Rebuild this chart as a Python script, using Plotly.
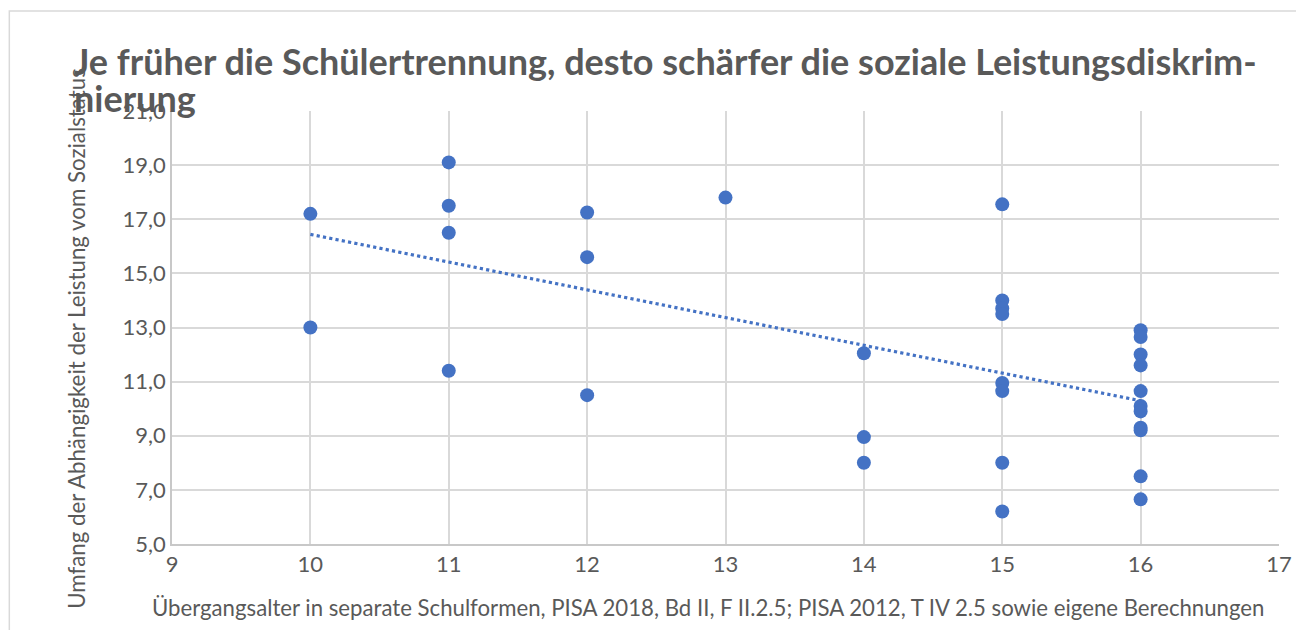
import numpy as np
import plotly.graph_objects as go

# Data
age_10 = [17.2, 13.0]
age_11 = [19.1, 17.5, 16.5, 11.4]
age_12 = [17.25, 15.6, 10.5]
age_13 = [17.8]
age_14 = [12.05, 8.95, 8.0]
age_15 = [17.55, 14.0, 13.7, 13.5, 10.95, 10.65, 8.0, 6.2]
age_16 = [12.9, 12.65, 12.0, 11.6, 10.65, 10.1, 9.9, 9.3, 9.2, 7.5, 6.65]

groups = {10: age_10, 11: age_11, 12: age_12, 13: age_13, 14: age_14, 15: age_15, 16: age_16}
xs = []
ys = []
for k, vals in groups.items():
    xs += [k] * len(vals)
    ys += vals
xs = np.array(xs, dtype=float)
ys = np.array(ys, dtype=float)

slope, intercept = np.polyfit(xs, ys, 1)
tx = np.array([xs.min(), xs.max()])
ty = slope * tx + intercept

title_line1 = "Je früher die Schülertrennung, desto schärfer die soziale Leistungsdiskrim-"
title_line2 = "nierung"
x_title = "Übergangsalter in separate Schulformen, PISA 2018, Bd II, F II.2.5; PISA 2012, T IV 2.5 sowie eigene Berechnungen"
y_title = "Umfang der Abhängigkeit der Leistung vom Sozialstatus"

blue = "#4472C4"
gray = "#595959"

fig = go.Figure()
fig.add_trace(go.Scatter(x=tx, y=ty, mode="lines",
                         line=dict(color=blue, width=3.2, dash="dot"),
                         showlegend=False, hoverinfo="skip"))
fig.add_trace(go.Scatter(x=xs, y=ys, mode="markers",
                         marker=dict(color=blue, size=14),
                         showlegend=False))

OFF = 8  # page body margin
W, H = 1304 - OFF, 630 - OFF
L, T = 172 - OFF, 111 - OFF
R = W - (1288 - OFF)
B = H - (544 - OFF)
pw = W - L - R
ph = H - T - B

def px2x(p):
    return (p - OFF - L) / pw

def py2y(p):
    return (H - B - (p - OFF)) / ph

fig.update_layout(
    width=W, height=H,
    margin=dict(l=L, r=R, t=T, b=B),
    paper_bgcolor="white", plot_bgcolor="white",
    separators=", ",
    font=dict(family="Lato, Carlito, sans-serif", color=gray, size=22),
    xaxis=dict(range=[9, 17], dtick=1, tick0=9, showgrid=True, gridcolor="#d9d9d9", gridwidth=1.5,
               showline=True, linecolor="#c8c8c8", linewidth=1.5, zeroline=False,
               ticks="", tickfont=dict(size=22, color=gray)),
    yaxis=dict(range=[5, 21], dtick=2, tick0=5, tickformat=".1f", showgrid=True, gridcolor="#d9d9d9",
               gridwidth=1.5, showline=True, linecolor="#c8c8c8", linewidth=1.5, zeroline=False,
               ticks="", tickfont=dict(size=22, color=gray)),
    shapes=[dict(type="rect", xref="paper", yref="paper",
                 x0=px2x(8), x1=px2x(1320), y0=py2y(660), y1=py2y(11),
                 line=dict(color="#d9d9d9", width=1.5), fillcolor="rgba(0,0,0,0)", layer="below")],
    annotations=[
        dict(text=title_line1, xref="paper", yref="paper", x=px2x(71), y=py2y(61),
             xanchor="left", yanchor="middle", align="left", showarrow=False,
             font=dict(size=36, color=gray, family="Lato, sans-serif", weight="bold")),
        dict(text=title_line2, xref="paper", yref="paper", x=px2x(71), y=py2y(98),
             xanchor="left", yanchor="middle", align="left", showarrow=False,
             font=dict(size=36, color=gray, family="Lato, sans-serif", weight="bold")),
        dict(text=x_title, xref="paper", yref="paper", x=px2x(712), y=py2y(607),
             xanchor="center", yanchor="middle", showarrow=False,
             font=dict(size=22.2, color=gray)),
        dict(text=y_title, xref="paper", yref="paper", x=px2x(75), y=py2y(338),
             xanchor="center", yanchor="middle", textangle=-90, showarrow=False,
             font=dict(size=22.3, color=gray)),
    ],
)

fig.write_html("out.html")
